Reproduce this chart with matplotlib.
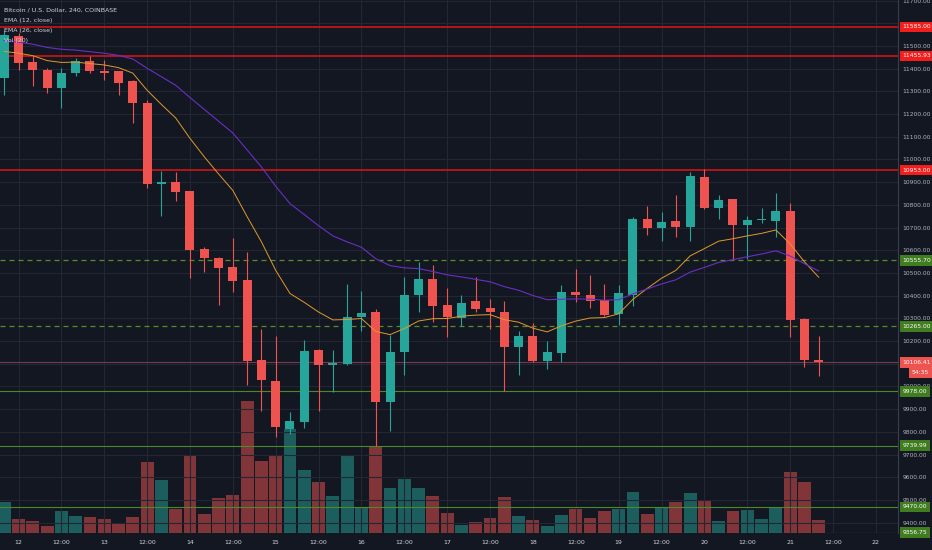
import matplotlib
matplotlib.use("Agg")
import matplotlib.pyplot as plt
import matplotlib.transforms as mtransforms
import numpy as np

# BTC/USD 4h candles, index 0 = day 12 00:00
idx = np.arange(-1, 57)
opens = [11361, 11546, 11431, 11396, 11317, 11379, 11436, 11392, 11388, 11344,
         11247, 10890, 10899, 10860, 10604, 10565, 10525, 10468, 10116, 10024,
         9812, 9843, 10160, 10094, 10098, 10305, 10327, 9931, 10151, 10402,
         10472, 10358, 10301, 10376, 10344, 10327, 10173, 10222, 10112, 10147,
         10415, 10402, 10380, 10318, 10402, 10736, 10697, 10728, 10701, 10921,
         10785, 10824, 10710, 10732, 10728, 10772, 10296, 10116]
highs = [11572, 11559, 11454, 11405, 11401, 11445, 11458, 11440, 11392, 11352,
         11264, 10948, 10943, 10860, 10613, 10570, 10653, 10591, 10252, 10222,
         9887, 10204, 10165, 10160, 10450, 10420, 10340, 10226, 10481, 10547,
         10534, 10433, 10402, 10481, 10384, 10376, 10244, 10279, 10200, 10446,
         10516, 10490, 10450, 10446, 10745, 10794, 10767, 10842, 10943, 10956,
         10842, 10828, 10750, 10785, 10851, 10807, 10300, 10222]
lows = [11286, 11396, 11322, 11291, 11225, 11366, 11379, 11352, 11282, 11159,
        10873, 10750, 10816, 10477, 10503, 10358, 10415, 10006, 9892, 9777,
        9790, 9817, 9892, 9975, 10094, 10244, 9738, 9804, 10050, 10327,
        10283, 10217, 10266, 10327, 10252, 9980, 10050, 10108, 10076, 10107,
        10371, 10345, 10310, 10270, 10354, 10666, 10640, 10657, 10640, 10780,
        10736, 10560, 10560, 10719, 10657, 10217, 10085, 10046]
closes = [11550, 11427, 11396, 11317, 11383, 11436, 11388, 11383, 11339, 11247,
          10890, 10899, 10855, 10600, 10565, 10521, 10464, 10112, 10028, 9821,
          9848, 10156, 10094, 10102, 10305, 10323, 9931, 10151, 10402, 10472,
          10353, 10305, 10367, 10340, 10327, 10173, 10222, 10112, 10151, 10415,
          10402, 10376, 10314, 10411, 10736, 10697, 10723, 10701, 10926, 10785,
          10820, 10710, 10732, 10736, 10772, 10292, 10116, 10106.41]
volume = [31, 14, 12, 7.5, 22, 17, 16, 14, 9, 16,
          71, 53, 24, 77, 19, 35, 38, 132, 72, 78,
          104, 63, 51, 37, 78, 25, 86, 45, 54, 45,
          37, 20, 8, 11, 15, 36, 17, 13, 7, 18,
          24, 15, 22, 24, 41, 19, 26, 31, 40, 33,
          12, 22, 23, 14, 26, 61, 51, 13]

# EMA values at the first visible candle
ema12_start = 11476
ema26_start = 11524

red_levels = [11585.00, 11455.93, 10953.00]
green_dashed = [10555.70, 10265.00]
green_solid = [9978.00, 9739.99, 9470.00, 9356.75]
last_price = 10106.41
countdown = "54:35"

xtick_pos = list(range(0, 61, 3))
xtick_lab = []
for k, p in enumerate(xtick_pos):
    xtick_lab.append(str(12 + p // 6) if k % 2 == 0 else "12:00")

ytick_vals = [v for v in range(9400, 11701, 100) if v not in (11600, 10100)]

legend_lines = ["Bitcoin / U.S. Dollar, 240, COINBASE", "EMA (12, close)",
                "EMA (26, close)", "Vol (20)"]

bg = "#131722"
up_c = "#26a69a"
dn_c = "#ef5350"
txt_c = "#b2b5be"

opens = np.array(opens, float)
closes = np.array(closes, float)
highs = np.array(highs, float)
lows = np.array(lows, float)
volume = np.array(volume, float)
up = closes >= opens


def ema(vals, start, n):
    a = 2.0 / (n + 1)
    out = [start]
    for v in vals[1:]:
        out.append(a * v + (1 - a) * out[-1])
    return np.array(out)


e12 = ema(closes, ema12_start, 12)
e26 = ema(closes, ema26_start, 26)

fig = plt.figure(figsize=(9.32, 5.5), dpi=100, facecolor=bg)
rect = [0, 17 / 550, 898 / 932, 533 / 550]
ax = fig.add_axes(rect)
axv = ax.twinx()
ax.set_zorder(axv.get_zorder() + 1)
ax.patch.set_visible(False)
axv.set_facecolor(bg)

# volume
vcol = np.where(up, up_c, dn_c)
axv.bar(idx, volume, width=0.9, color=vcol, alpha=0.5, linewidth=0)
axv.set_ylim(0, volume.max() * 533 / 132)
axv.set_yticks([])
for s in axv.spines.values():
    s.set_visible(False)

# grid
ax.set_xlim(-1.295, 61.55)
ax.set_ylim(9354.6, 11702.6)
ax.set_xticks(xtick_pos)
ax.set_xticklabels(xtick_lab)
ax.set_yticks(ytick_vals)
ax.set_yticklabels(["%.2f" % v for v in ytick_vals])
for v in range(9400, 11701, 100):
    ax.axhline(v, color="#232733", lw=0.8, zorder=0)
for p in xtick_pos:
    ax.axvline(p, color="#232733", lw=0.8, zorder=0)

ax.yaxis.tick_right()
ax.tick_params(axis="y", length=0, pad=3, labelsize=4.3, labelcolor=txt_c)
ax.tick_params(axis="x", length=0, pad=5, labelsize=4.5, labelcolor="#d1d4dc")
for s in ax.spines.values():
    s.set_visible(False)
ax.spines["right"].set_visible(True)
ax.spines["right"].set_color("#3a3e4a")
ax.spines["right"].set_linewidth(0.8)

# levels
for v in red_levels:
    ax.axhline(v, color="#e01414", lw=1.1, zorder=2)
for v in green_dashed:
    ax.axhline(v, color="#5b8c2a", lw=0.9, ls=(0, (4, 3.2)), zorder=2)
for v in green_solid:
    ax.axhline(v, color="#4a8a2a", lw=0.8, zorder=2)
ax.axhline(last_price, color="#7a3a4e", lw=0.8, zorder=2)

# candles
ccol = np.where(up, up_c, dn_c)
ax.vlines(idx, lows, highs, colors=ccol, lw=0.8, zorder=3)
body_lo = np.minimum(opens, closes)
body_h = np.maximum(np.abs(closes - opens), 6)
ax.bar(idx, body_h, bottom=body_lo, width=0.63, color=ccol, linewidth=0, zorder=4)

ax.plot(idx, e12, color="#e09a2a", lw=0.7, zorder=5)
ax.plot(idx, e26, color="#6a2fc4", lw=0.8, zorder=5)

# price labels on the axis
tr = mtransforms.blended_transform_factory(ax.transAxes, ax.transData)
for v in red_levels:
    ax.text(1.005, v, "%.2f" % v, transform=tr, ha="left", va="center",
            fontsize=4.3, color="white", clip_on=False, zorder=10,
            bbox=dict(boxstyle="square,pad=0.45", fc="#f21d1d", ec="none"))
for v in green_dashed + green_solid:
    ax.text(1.005, v, "%.2f" % v, transform=tr, ha="left", va="center",
            fontsize=4.3, color="white", clip_on=False, zorder=10,
            bbox=dict(boxstyle="square,pad=0.45", fc="#3f7d20", ec="none"))
ax.text(1.005, last_price, "%.2f" % last_price, transform=tr, ha="left", va="center",
        fontsize=4.3, color="white", clip_on=False, zorder=10,
        bbox=dict(boxstyle="square,pad=0.45", fc=dn_c, ec="none"))
ax.annotate(countdown, xy=(1.0345, last_price), xycoords=tr, xytext=(0, -7.5),
            textcoords="offset points", ha="right", va="center", fontsize=4.3,
            color="white", annotation_clip=False, zorder=10,
            bbox=dict(boxstyle="square,pad=0.45", fc=dn_c, ec="none"))

# legend text
for k, t in enumerate(legend_lines):
    fig.text(4 / 932, 1 - (10 + 10.3 * k) / 550, t, ha="left", va="center",
             fontsize=4.5, color="#d1d4dc")

fig.savefig("out.png", dpi=100, facecolor=bg)
